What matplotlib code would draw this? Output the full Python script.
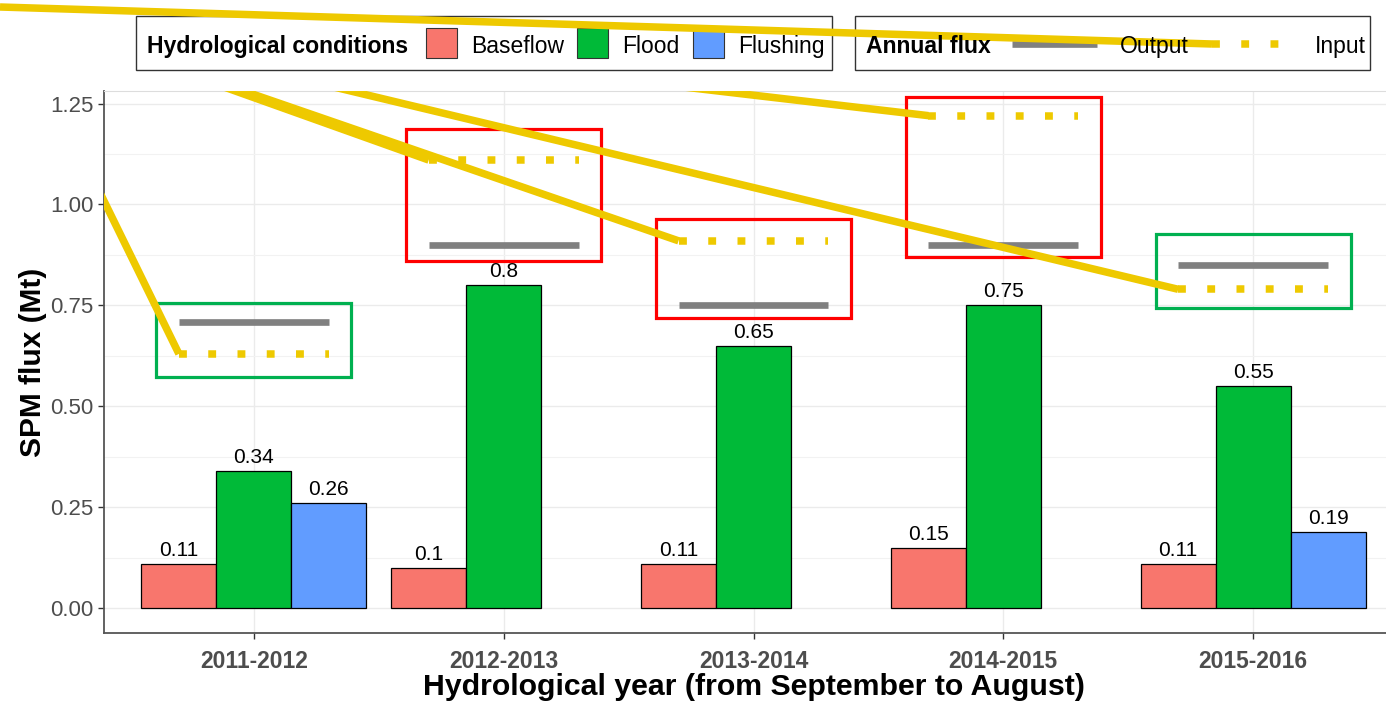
import matplotlib
matplotlib.use("Agg")
import matplotlib.pyplot as plt
from matplotlib.patches import Rectangle

plt.rcParams['font.family'] = ['Liberation Sans', 'DejaVu Sans']

# data
years = ['2011-2012', '2012-2013', '2013-2014', '2014-2015', '2015-2016']
conditions = ['Baseflow', 'Flood', 'Flushing']
baseflow = [0.11, 0.10, 0.11, 0.15, 0.11]
flood = [0.34, 0.80, 0.65, 0.75, 0.55]
flushing = [0.26, None, None, None, 0.19]
output_flux = [0.71, 0.90, 0.75, 0.90, 0.85]
input_flux = [0.63, 1.11, 0.91, 1.22, 0.79]
# highlight boxes drawn round each pair (bottom / top, Mt)
box_bottom = [0.574, 0.859, 0.718, 0.871, 0.743]
box_top = [0.757, 1.186, 0.965, 1.265, 0.928]

cond_colors = ['#F8766D', '#00BA38', '#619CFF']
out_col = '#808080'
in_col = '#EEC900'
W, H = 1386, 704

fig = plt.figure(figsize=(W / 100, H / 100), dpi=100)
ax = fig.add_axes([104 / W, (H - 633) / H, (1403 - 104) / W, (633 - 91) / H])

bw = 0.3
series = [baseflow, flood, flushing]
for i, yr in enumerate(years):
    x0 = i + 1
    for k in range(3):
        v = series[k][i]
        if v is None:
            continue
        xc = x0 + (k - 1) * bw
        ax.bar(xc, v, width=bw, color=cond_colors[k], edgecolor='black',
               linewidth=0.9, zorder=3)
        ax.text(xc, v + 0.02, f"{v:g}", ha='center', va='baseline',
                fontsize=15, color='black', zorder=6)

# annual flux segments
for i in range(len(years)):
    x0 = i + 1
    ax.plot([x0 - 0.3, x0 + 0.3], [output_flux[i]] * 2, color=out_col,
            lw=4.8, solid_capstyle='butt', zorder=4)
    ax.plot([x0 - 0.3, x0 + 0.3], [input_flux[i]] * 2, color=in_col,
            lw=5.4, linestyle=(0, (1.05, 2.85)), dash_capstyle='butt', zorder=4)
    good = input_flux[i] < output_flux[i]
    ax.add_patch(Rectangle((x0 - 0.39, box_bottom[i]), 0.78,
                           box_top[i] - box_bottom[i], fill=False,
                           edgecolor='#00B050' if good else '#FF0000',
                           lw=2.3, zorder=5))

ax.set_xlim(0.4, 5.6)
ax.set_ylim(-0.061, 1.281)
ax.set_xticks(range(1, len(years) + 1))
ax.set_xticklabels(years, fontsize=16.5, fontweight='bold', color='#4D4D4D')
ax.set_yticks([0, 0.25, 0.5, 0.75, 1.0, 1.25])
ax.set_yticklabels(['0.00', '0.25', '0.50', '0.75', '1.00', '1.25'],
                   fontsize=16, color='#4D4D4D')
ax.set_yticks([0.125, 0.375, 0.625, 0.875, 1.125], minor=True)
ax.grid(True, which='major', color='#EBEBEB', lw=1.0, zorder=0)
ax.grid(True, which='minor', axis='y', color='#F2F2F2', lw=0.8, zorder=0)
ax.set_axisbelow(True)
ax.tick_params(axis='both', which='major', length=4, width=1, color='#333333')
ax.tick_params(axis='y', which='minor', length=0)
ax.tick_params(axis='x', pad=8)
for s in ['left', 'bottom']:
    ax.spines[s].set_color('#555555')
    ax.spines[s].set_linewidth(1.3)
ax.spines['top'].set_color('#DDDDDD')
ax.spines['right'].set_visible(False)
ax.set_ylabel('SPM flux (Mt)', fontsize=21.5, fontweight='bold', labelpad=2)
ax.set_xlabel('Hydrological year (from September to August)', fontsize=21.8,
              fontweight='bold', labelpad=0)

# stray yellow strokes that run into each input segment
origins = [(9, 7), (0, 7), (0, 7), (0, 7), (0, 7)]
fig.canvas.draw()
inv = ax.transData.inverted()
for i in range(len(years)):
    ox, oy = inv.transform((origins[i][0], H - origins[i][1]))
    ax.plot([ox, i + 1 - 0.3], [oy, input_flux[i]], color=in_col, lw=5.4,
            solid_capstyle='butt', zorder=5)

# legends in pixel space
lg = fig.add_axes([0, 0, 1, 1], zorder=10)
lg.set_xlim(0, W)
lg.set_ylim(H, 0)
lg.axis('off')
lg.patch.set_alpha(0)
lg.add_patch(Rectangle((136, 16), 696, 54, fill=False, edgecolor='#333333', lw=1))
lg.add_patch(Rectangle((855, 16), 515, 54, fill=False, edgecolor='#333333', lw=1))
ty = 53
lg.text(147, ty, 'Hydrological conditions', fontsize=16.6, fontweight='bold', va='baseline')
key_x = [426, 577, 693]
for k, name in enumerate(conditions):
    lg.add_patch(Rectangle((key_x[k], 28), 31, 30, facecolor=cond_colors[k],
                           edgecolor='#333333', lw=0.8))
    lg.text(key_x[k] + 45, ty, name, fontsize=16.5, va='baseline')
lg.text(866, ty, 'Annual flux', fontsize=16.6, fontweight='bold', va='baseline')
lg.plot([1012, 1097], [44, 44], color=out_col, lw=4.8, solid_capstyle='butt')
lg.text(1120, ty, 'Output', fontsize=16.5, va='baseline')
lg.plot([1212, 1297], [44, 44], color=in_col, lw=5.4,
        linestyle=(0, (1.05, 2.85)), dash_capstyle='butt')
lg.text(1315, ty, 'Input', fontsize=16.5, va='baseline')
lg.plot([0, 1212], [7, 44], color=in_col, lw=5.4, solid_capstyle='butt')

fig.savefig('out.png', dpi=100)
